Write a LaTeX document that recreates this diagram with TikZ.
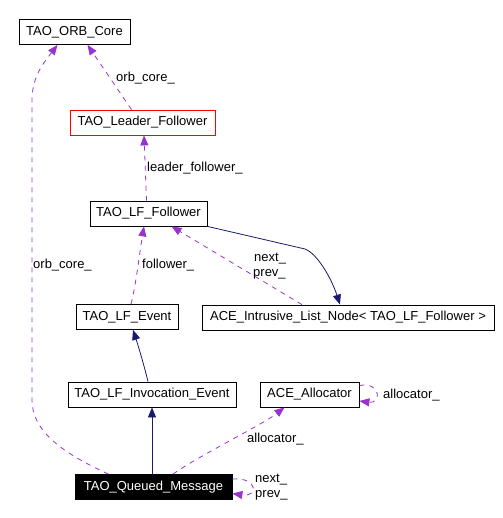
\documentclass[tikz,border=0pt]{standalone}
\usepackage{fontspec}
\setmainfont{Liberation Sans}
\usetikzlibrary{arrows.meta}
\definecolor{usecolor}{HTML}{9A32CD}
\definecolor{inhcolor}{HTML}{191970}
\begin{document}
\begin{tikzpicture}[x=1pt,y=-1pt]
    \tikzstyle{class box}=[rectangle, draw, line width=0.8pt, minimum height=25pt, inner sep=0pt, font=\fontsize{13}{15}\selectfont];
    \tikzstyle{use edge}=[usecolor, line width=0.8pt, dash pattern=on 5pt off 5pt, -{Triangle[length=10pt,width=8pt]}];
    \tikzstyle{inherit edge}=[inhcolor, line width=0.8pt, -{Triangle[length=10pt,width=8pt]}];
    \tikzstyle{edge label}=[anchor=west, inner sep=0pt, font=\fontsize{13}{15}\selectfont];

    \useasboundingbox (0,0) rectangle (502,518);

    \node[class box, minimum width=111pt] (orbcore) at (74.5,32) {TAO\_ORB\_Core};
    \node[class box, minimum width=145pt, draw=red] (leader) at (142.5,122.5) {TAO\_Leader\_Follower};
    \node[class box, minimum width=117pt] (follower) at (148.5,213.5) {TAO\_LF\_Follower};

    \node[class box, minimum width=102pt] (event) at (127,317) {TAO\_LF\_Event};
    \node[class box, minimum width=292pt] (listnode) at (348,317.5) {ACE\_Intrusive\_List\_Node< TAO\_LF\_Follower >};

    \node[class box, minimum width=168pt] (invocation) at (152,394.5) {TAO\_LF\_Invocation\_Event};
    \node[class box, minimum width=99pt] (allocator) at (309.5,394.5) {ACE\_Allocator};

    \node[class box, minimum width=157pt, fill=black, text=white] (queued) at (153.5,487) {TAO\_Queued\_Message};

    \node[edge label] (l1) at (116,78) {orb\_core\_};
    \node[edge label] (l2) at (147,168) {leader\_follower\_};
    \node[edge label] (l3) at (33,265) {orb\_core\_};
    \node[edge label] (l4) at (142,265) {follower\_};
    \node[edge label] (l5) at (254,259) {next\_};
    \node[edge label] (l6) at (253,274) {prev\_};
    \node[edge label] (l7) at (247,439) {allocator\_};
    \node[edge label] (l8) at (383,395) {allocator\_};
    \node[edge label] (l9) at (255,480) {next\_};
    \node[edge label] (l10) at (255,495) {prev\_};

    \draw[use edge] ([xshift=-11pt]leader.north) -- ([xshift=13pt]orbcore.south);
    \draw[use edge] ([xshift=-2pt]follower.north) -- ([xshift=1.5pt]leader.south);
    \draw[use edge] ([xshift=-45pt]queued.north) .. controls (60,452) and (32,430) .. (32,400)
        -- (32,100) .. controls (32,75) and (46,60) .. ([xshift=-17pt]orbcore.south);
    \draw[use edge] ([xshift=4pt]event.north) .. controls (136,285) and (140,250) .. ([xshift=-4.5pt]follower.south);

    \draw[inherit edge] (follower.south east) -- (305,249) .. controls (318,254) and (332,280) .. ([xshift=-8pt]listnode.north);
    \draw[use edge] ([xshift=-46pt]listnode.north) -- ([xshift=23pt]follower.south);

    \draw[inherit edge] ([xshift=-4pt]invocation.north) .. controls (144,365) and (138,345) .. ([xshift=6pt]event.south);
    \draw[inherit edge] ([xshift=-1.5pt]queued.north) -- (invocation.south);

    \draw[use edge] ([xshift=19.5pt]queued.north) .. controls (200,455) and (262,425) .. ([xshift=-25pt]allocator.south);
    \draw[use edge] ([yshift=9pt]allocator.east) .. controls +(22,-4) and +(22,3) .. ([yshift=-6.5pt]allocator.east);
    \draw[use edge] ([yshift=8pt]queued.east) .. controls +(26,-2) and +(26,4) .. ([yshift=-6.5pt]queued.east);

\end{tikzpicture}
\end{document}
